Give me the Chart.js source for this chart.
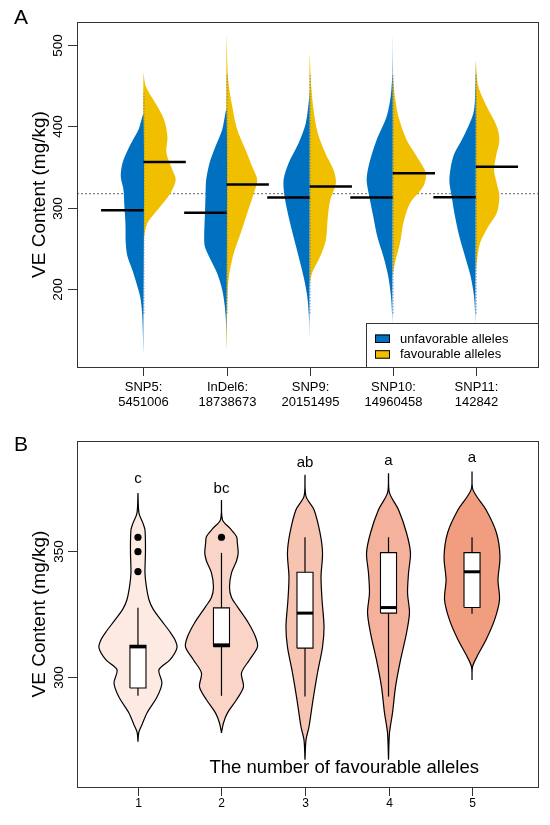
<!DOCTYPE html>
<html>
<head>
<meta charset="utf-8">
<script src="https://cdn.jsdelivr.net/npm/chart.js@4.4.1/dist/chart.umd.min.js"></script>
<style>
  body { margin: 0; background: #fff; }
  canvas { position: absolute; left: 0; }
  #panelA { top: 0; }
  #panelB { top: 425px; }
</style>
</head>
<body>
<canvas id="panelA" width="550" height="425"></canvas>
<canvas id="panelB" width="550" height="400"></canvas>
<script>
// ---------- panel A: split violins per marker ----------
const markerLabels = [['SNP5:', '5451006'], ['InDel6:', '18738673'], ['SNP9:', '20151495'], ['SNP10:', '14960458'], ['SNP11:', '142842']];
const yTicksA = [200, 300, 400, 500];

// density outlines: [VE content, half width in category units]
const snp5Unfav = [[121, 0], [170, 0.016], [190.5, 0.04], [207, 0.084], [223, 0.133], [240, 0.193], [256, 0.213], [281, 0.217], [301, 0.229], [322, 0.241], [338, 0.273], [354.5, 0.253], [375, 0.169], [395.5, 0.06], [414, 0]];
const snp5Fav = [[256.5, 0], [264, 0.008], [281, 0.048], [297, 0.169], [317.6, 0.325], [334, 0.389], [346, 0.349], [367, 0.277], [387, 0.289], [408, 0.249], [428, 0.145], [449, 0.028], [465, 0]];
const indel6Unfav = [[125, 0], [158, 0.006], [178, 0.02], [199, 0.052], [219, 0.112], [236, 0.193], [252, 0.261], [264, 0.269], [289, 0.261], [313.5, 0.253], [334, 0.245], [354.5, 0.205], [375, 0.133], [395.5, 0.052], [420, 0]];
const indel6Fav = [[125, 0], [190.5, 0.012], [215, 0.028], [244, 0.088], [268, 0.169], [293, 0.249], [317.6, 0.329], [334, 0.37], [350, 0.31], [371, 0.229], [395.5, 0.129], [424, 0.069], [457, 0.02], [510, 0]];
const snp9Unfav = [[141, 0], [166, 0.008], [190.5, 0.028], [215, 0.072], [240, 0.133], [264, 0.193], [289, 0.253], [313.5, 0.301], [334, 0.313], [354.5, 0.253], [379, 0.133], [404, 0.045], [436, 0.004], [445, 0]];
const snp9Fav = [[203, 0], [219, 0.028], [240, 0.129], [260, 0.196], [289, 0.22], [309, 0.249], [330, 0.317], [346, 0.289], [367, 0.189], [391, 0.1], [420, 0.048], [449, 0.02], [488, 0]];
const snp10Unfav = [[130, 0], [166, 0.006], [190.5, 0.02], [215, 0.052], [240, 0.112], [264, 0.184], [289, 0.233], [313.5, 0.281], [334, 0.313], [354.5, 0.281], [383, 0.193], [412, 0.072], [436, 0.024], [465, 0.004], [510, 0]];
const snp10Fav = [[215, 0], [232, 0.028], [256, 0.088], [281, 0.129], [305, 0.208], [326, 0.37], [342, 0.401], [363, 0.289], [383, 0.169], [412, 0.069], [436, 0.028], [461, 0]];
const snp11Unfav = [[130, 0], [166, 0.006], [190.5, 0.02], [215, 0.06], [240, 0.129], [264, 0.196], [289, 0.249], [313.5, 0.289], [334, 0.317], [363, 0.269], [387, 0.148], [416, 0.028], [440, 0.006], [482, 0]];
const snp11Fav = [[215, 0], [232, 0.012], [256, 0.052], [277, 0.153], [293, 0.253], [313.5, 0.285], [330, 0.253], [346, 0.22], [363, 0.245], [383, 0.285], [400, 0.253], [424, 0.133], [449, 0.032], [478, 0]];

const unfavProfiles = [snp5Unfav, indel6Unfav, snp9Unfav, snp10Unfav, snp11Unfav];
const favProfiles = [snp5Fav, indel6Fav, snp9Fav, snp10Fav, snp11Fav];
const unfavMeans = [296.7, 293.6, 312.3, 312.3, 312.7];
const favMeans = [356, 328.3, 325.8, 342.2, 350];
const rugLow = [170, 170, 170, 170, 170];
const rugHigh = [440, 465, 465, 465, 465];
const overallMean = 317;

// ---------- panel B: violins by number of favourable alleles ----------
const alleleCounts = [1, 2, 3, 4, 5];
const yTicksB = [300, 350];
const count1 = [[274.3, 0], [278, 0.01], [281, 0.048], [285.7, 0.108], [292, 0.228], [297.6, 0.287], [302.8, 0.251], [306.7, 0.383], [311.5, 0.467], [314.7, 0.443], [318, 0.38], [322.6, 0.275], [327, 0.18], [330.6, 0.132], [336, 0.1], [341.3, 0.084], [350, 0.09], [358.3, 0.084], [361, 0.06], [365, 0.012], [373, 0]];
const count2 = [[277.8, 0], [281.7, 0.024], [285.7, 0.072], [290.9, 0.18], [296, 0.263], [301.6, 0.24], [306.7, 0.335], [311.9, 0.431], [315.9, 0.407], [321.4, 0.323], [327.8, 0.192], [331.5, 0.12], [335.7, 0.096], [341.3, 0.12], [346, 0.18], [349.2, 0.2], [353, 0.19], [355.7, 0.18], [359, 0.1], [362.3, 0.012], [370.2, 0]];
const count3 = [[267.1, 0], [275, 0.012], [280.2, 0.048], [290.9, 0.096], [301.6, 0.15], [311.9, 0.21], [319.8, 0.228], [330.6, 0.204], [339.7, 0.192], [349.2, 0.21], [357.1, 0.18], [366.3, 0.108], [371.6, 0.012], [380.2, 0]];
const count4 = [[267.1, 0], [277.8, 0.012], [285.7, 0.048], [296, 0.084], [306.7, 0.144], [317.5, 0.216], [325.4, 0.251], [333.3, 0.228], [341.3, 0.24], [349.2, 0.263], [357.1, 0.216], [366.3, 0.12], [373, 0.012], [380.8, 0]];
const count5 = [[298.8, 0], [304, 0.006], [308.1, 0.06], [314.7, 0.168], [322.6, 0.27], [330.6, 0.329], [338.5, 0.311], [347.7, 0.335], [357.1, 0.293], [366.3, 0.168], [374.2, 0.012], [381.5, 0]];
const countProfiles = [count1, count2, count3, count4, count5];

const whiskerLow = [292.5, 292.5, 292.2, 292.2, 325];
const quartile1 = [295.6, 312, 311.4, 325.3, 327.5];
const medians = [311.9, 312.7, 325.3, 327.5, 341.7];
const quartile3 = [312.5, 327.4, 341.5, 349.3, 349.3];
const whiskerHigh = [327.4, 349.2, 355.4, 355.4, 355.4];
const outliers = [[341.8, 349.7, 355.4], [355.4], [], [], []];
const sigLetters = ['c', 'bc', 'ab', 'a', 'a'];
const letterHeights = [378.6, 374.6, 385, 385.7, 387];

// ---------- styling ----------
const FONT = "'Liberation Sans', Arial, sans-serif";
const BLUE = '#0070C0';
const YELLOW = '#F0C000';
const VIOLIN_FILLS = ['#FDEAE2', '#F9D4C7', '#F7C4B2', '#F4B19B', '#F09D80'];
const MEAN_HALF = 0.51;
const BOX_HALF = 0.096;

function seg(points, color, width, order, extra) {
  return Object.assign({
    data: points, showLine: true, fill: false, pointRadius: 0,
    borderColor: color, borderWidth: width, order: order, tension: 0
  }, extra || {});
}

// ---------- build panel A ----------
const dsA = [];
dsA.push(seg([{ x: -0.8, y: overallMean }, { x: 4.75, y: overallMean }], '#666', 1, 20, { borderDash: [2, 2] }));
markerLabels.forEach((_, i) => {
  const u = unfavProfiles[i];
  const f = favProfiles[i];
  const left = u.map(p => ({ x: i - p[1], y: p[0] }));
  left.push({ x: i, y: u[0][0] });
  const right = f.map(p => ({ x: i + p[1], y: p[0] }));
  right.push({ x: i, y: f[0][0] });
  dsA.push(seg(left, 'rgba(0,0,0,0)', 0, 10, { fill: 'shape', backgroundColor: BLUE, tension: 0.3 }));
  dsA.push(seg(right, 'rgba(0,0,0,0)', 0, 10, { fill: 'shape', backgroundColor: YELLOW, tension: 0.3 }));
  dsA.push(seg([{ x: i + 0.006, y: rugLow[i] }, { x: i + 0.006, y: rugHigh[i] }], 'rgba(20,80,150,0.8)', 1, 5, { borderDash: [1, 2] }));
  dsA.push(seg([{ x: i - MEAN_HALF, y: unfavMeans[i] }, { x: i, y: unfavMeans[i] }], '#000', 2.5, 1));
  dsA.push(seg([{ x: i, y: favMeans[i] }, { x: i + MEAN_HALF, y: favMeans[i] }], '#000', 2.5, 1));
});

function drawRotated(ctx, text, x, y, size) {
  ctx.save();
  ctx.translate(x, y);
  ctx.rotate(-Math.PI / 2);
  ctx.font = size + 'px ' + FONT;
  ctx.textAlign = 'center';
  ctx.textBaseline = 'middle';
  ctx.fillText(text, 0, 0);
  ctx.restore();
}

const axesA = {
  id: 'axesA',
  afterDraw(chart) {
    const { ctx, chartArea: a, scales } = chart;
    ctx.save();
    ctx.strokeStyle = '#333';
    ctx.fillStyle = '#000';
    ctx.lineWidth = 1;
    ctx.strokeRect(a.left + 0.5, a.top + 0.5, a.right - a.left, a.bottom - a.top);
    yTicksA.forEach(v => {
      const y = Math.round(scales.y.getPixelForValue(v)) + 0.5;
      ctx.beginPath(); ctx.moveTo(a.left - 9, y); ctx.lineTo(a.left, y); ctx.stroke();
      drawRotated(ctx, String(v), a.left - 19, y, 13.5);
    });
    ctx.font = '13px ' + FONT;
    ctx.textAlign = 'center';
    ctx.textBaseline = 'middle';
    markerLabels.forEach((lab, i) => {
      const x = Math.round(scales.x.getPixelForValue(i)) + 0.5;
      ctx.beginPath(); ctx.moveTo(x, a.bottom); ctx.lineTo(x, a.bottom + 9); ctx.stroke();
      ctx.fillText(lab[0], x, a.bottom + 20);
      ctx.fillText(lab[1], x, a.bottom + 35);
    });
    drawRotated(ctx, 'VE Content (mg/kg)', 40, (a.top + a.bottom) / 2, 19);
    ctx.font = '21px ' + FONT;
    ctx.textAlign = 'left';
    ctx.textBaseline = 'alphabetic';
    ctx.fillText('A', 14, 24);

    // legend box in the lower right corner
    const lw = 172, lh = 44;
    const lx = a.right - lw, ly = a.bottom - lh;
    ctx.fillStyle = '#fff';
    ctx.fillRect(lx, ly, lw, lh);
    ctx.strokeRect(lx + 0.5, ly + 0.5, lw, lh);
    [['unfavorable alleles', BLUE], ['favourable alleles', YELLOW]].forEach((e, k) => {
      const sy = ly + 11.5 + k * 15.7;
      ctx.fillStyle = e[1];
      ctx.fillRect(lx + 9, sy, 15, 8.5);
      ctx.strokeStyle = '#000';
      ctx.strokeRect(lx + 9.5, sy + 0.5, 14, 7.5);
      ctx.fillStyle = '#000';
      ctx.font = '13px ' + FONT;
      ctx.textBaseline = 'middle';
      ctx.fillText(e[0], lx + 34, sy + 4.5);
    });
    ctx.restore();
  }
};

new Chart(document.getElementById('panelA'), {
  type: 'scatter',
  data: { datasets: dsA },
  options: {
    responsive: false,
    animation: false,
    layout: { padding: { left: 77, right: 12, top: 22, bottom: 58 } },
    plugins: { legend: { display: false }, tooltip: { enabled: false } },
    elements: { point: { radius: 0 } },
    scales: {
      x: { type: 'linear', min: -0.8, max: 4.75, display: false },
      y: { type: 'linear', min: 104, max: 528, display: false }
    }
  },
  plugins: [axesA]
});

// ---------- build panel B ----------
const dsB = [];
alleleCounts.forEach((c, i) => {
  const prof = countProfiles[i];
  const outline = prof.map(p => ({ x: c - p[1], y: p[0] }));
  for (let k = prof.length - 1; k >= 0; k--) outline.push({ x: c + prof[k][1], y: prof[k][0] });
  dsB.push(seg(outline, '#000', 1.2, 10, { fill: 'shape', backgroundColor: VIOLIN_FILLS[i], tension: 0.3 }));
  dsB.push(seg([{ x: c, y: whiskerLow[i] }, { x: c, y: whiskerHigh[i] }], '#000', 1.2, 6));
  dsB.push(seg([
    { x: c - BOX_HALF, y: quartile1[i] }, { x: c + BOX_HALF, y: quartile1[i] },
    { x: c + BOX_HALF, y: quartile3[i] }, { x: c - BOX_HALF, y: quartile3[i] },
    { x: c - BOX_HALF, y: quartile1[i] }
  ], '#000', 1.1, 4, { fill: 'shape', backgroundColor: '#fff' }));
  dsB.push(seg([{ x: c - BOX_HALF, y: medians[i] }, { x: c + BOX_HALF, y: medians[i] }], '#000', 3, 2));
  if (outliers[i].length) {
    dsB.push({
      data: outliers[i].map(v => ({ x: c, y: v })), showLine: false,
      pointRadius: 3.6, pointBackgroundColor: '#000', pointBorderWidth: 0, order: 1
    });
  }
});

const axesB = {
  id: 'axesB',
  afterDraw(chart) {
    const { ctx, chartArea: a, scales } = chart;
    ctx.save();
    ctx.strokeStyle = '#333';
    ctx.fillStyle = '#000';
    ctx.lineWidth = 1;
    ctx.strokeRect(a.left + 0.5, a.top + 0.5, a.right - a.left, a.bottom - a.top);
    yTicksB.forEach(v => {
      const y = Math.round(scales.y.getPixelForValue(v)) + 0.5;
      ctx.beginPath(); ctx.moveTo(a.left - 9, y); ctx.lineTo(a.left, y); ctx.stroke();
      drawRotated(ctx, String(v), a.left - 18, y, 13.5);
    });
    ctx.font = '12px ' + FONT;
    ctx.textAlign = 'center';
    ctx.textBaseline = 'middle';
    alleleCounts.forEach(c => {
      const x = Math.round(scales.x.getPixelForValue(c)) + 0.5;
      ctx.beginPath(); ctx.moveTo(x, a.bottom); ctx.lineTo(x, a.bottom + 9); ctx.stroke();
      ctx.fillText(String(c), x, a.bottom + 17);
    });
    ctx.font = '15px ' + FONT;
    sigLetters.forEach((t, i) => {
      ctx.fillText(t, scales.x.getPixelForValue(alleleCounts[i]), scales.y.getPixelForValue(letterHeights[i]));
    });
    ctx.font = '18.5px ' + FONT;
    ctx.fillText('The number of favourable alleles', scales.x.getPixelForValue(3.47), a.bottom - 19);
    drawRotated(ctx, 'VE Content (mg/kg)', 40, (a.top + a.bottom) / 2, 19);
    ctx.font = '21px ' + FONT;
    ctx.textAlign = 'left';
    ctx.textBaseline = 'alphabetic';
    ctx.fillText('B', 14, 26);
    ctx.restore();
  }
};

new Chart(document.getElementById('panelB'), {
  type: 'scatter',
  data: { datasets: dsB },
  options: {
    responsive: false,
    animation: false,
    layout: { padding: { left: 77, right: 12, top: 16, bottom: 38 } },
    plugins: { legend: { display: false }, tooltip: { enabled: false } },
    elements: { point: { radius: 0 } },
    scales: {
      x: { type: 'linear', min: 0.27, max: 5.79, display: false },
      y: { type: 'linear', min: 256.3, max: 393.6, display: false }
    }
  },
  plugins: [axesB]
});
</script>
</body>
</html>
